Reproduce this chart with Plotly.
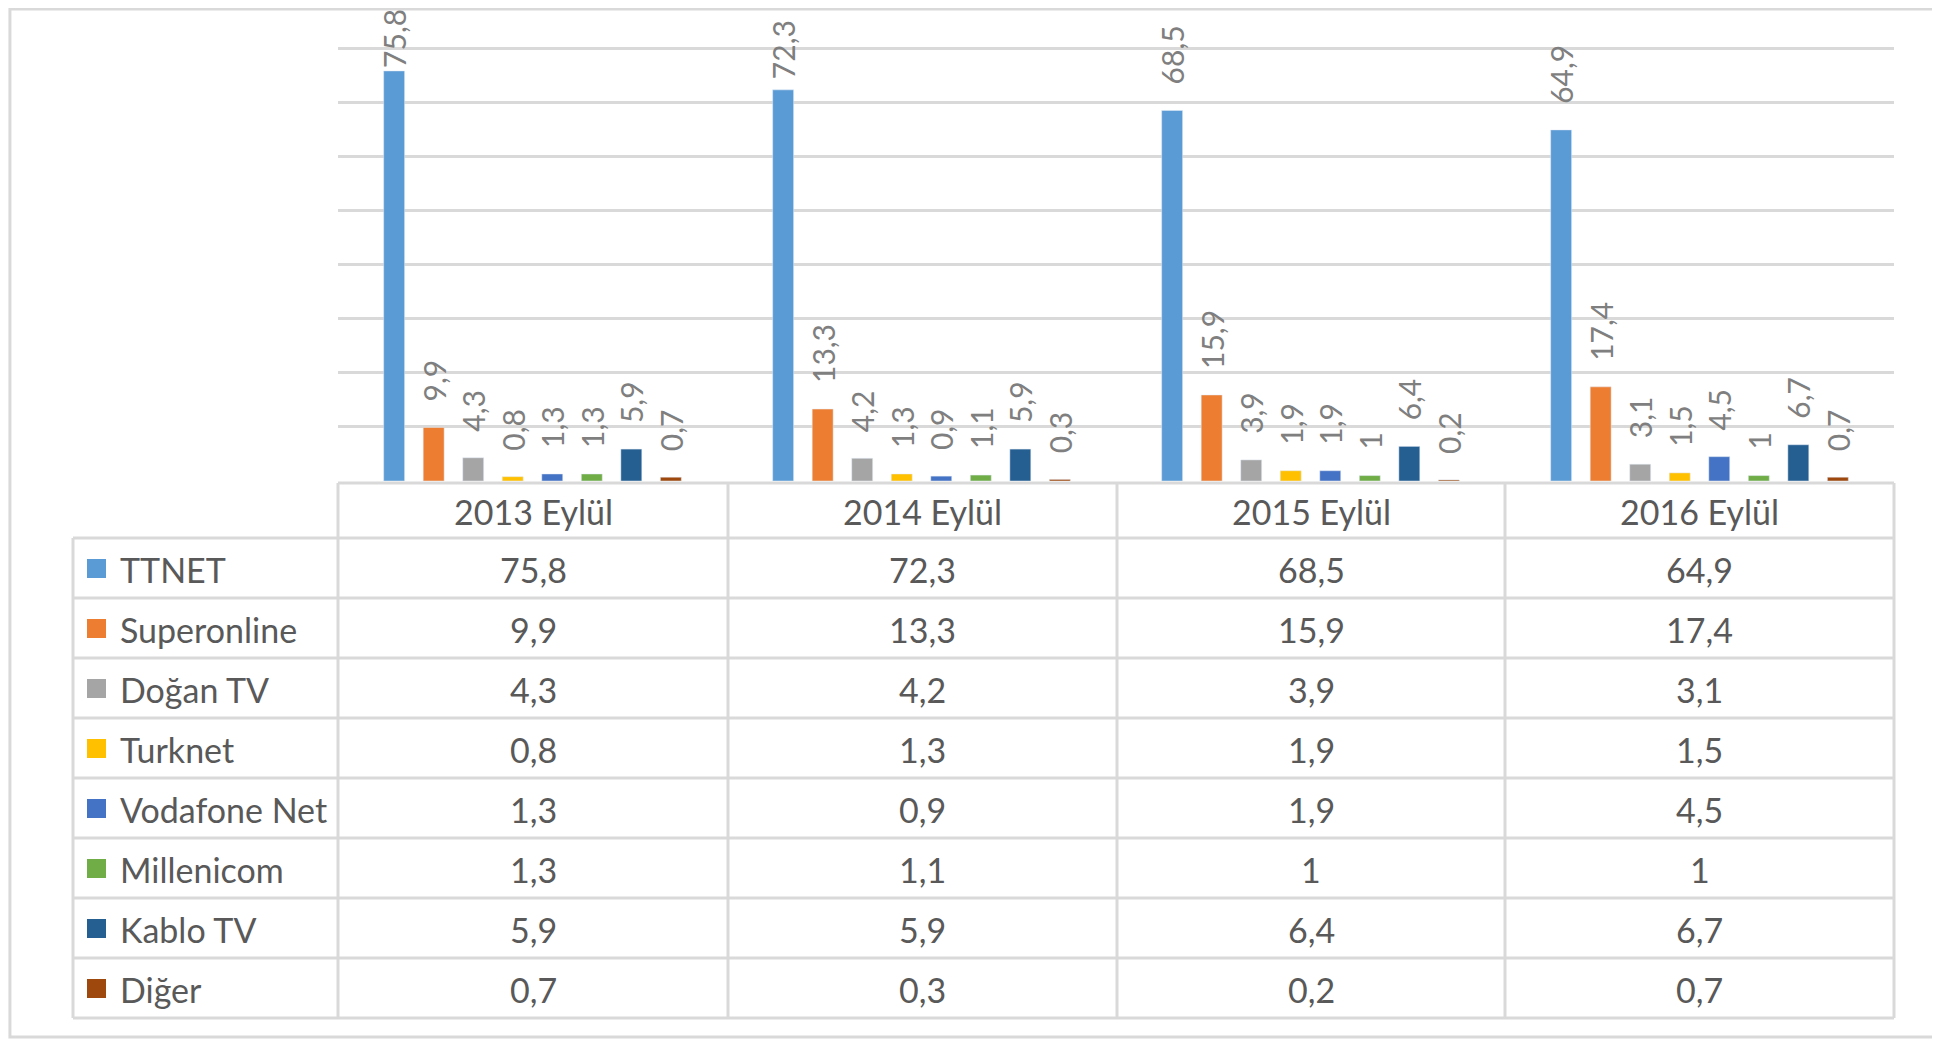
import plotly.graph_objects as go

# data
years = ["2013 Eylül", "2014 Eylül", "2015 Eylül", "2016 Eylül"]
providers = ["TTNET", "Superonline", "Doğan TV", "Turknet",
             "Vodafone Net", "Millenicom", "Kablo TV", "Diğer"]
ttnet = [75.8, 72.3, 68.5, 64.9]
superonline = [9.9, 13.3, 15.9, 17.4]
dogan_tv = [4.3, 4.2, 3.9, 3.1]
turknet = [0.8, 1.3, 1.9, 1.5]
vodafone_net = [1.3, 0.9, 1.9, 4.5]
millenicom = [1.3, 1.1, 1.0, 1.0]
kablo_tv = [5.9, 5.9, 6.4, 6.7]
diger = [0.7, 0.3, 0.2, 0.7]

series = [ttnet, superonline, dogan_tv, turknet,
          vodafone_net, millenicom, kablo_tv, diger]
colors = ["#5B9BD5", "#ED7D31", "#A5A5A5", "#FFC000",
          "#4472C4", "#70AD47", "#255E91", "#9E480E"]

# page has an 8px body margin, so the figure is a bit smaller than the window
OFF = 8
W, H = 1940 - OFF, 1040 - OFF
FONT = "Lato"
GRID = "#d9d9d9"
TXT = "#595959"


def fx(x):
    return (x - OFF) / W


def fy(y):
    return 1 - (y - OFF) / H


# plot area / table grid in page pixels
X0, X1 = 338, 1894
Y_TOP, Y_BOT = 8, 481
PPU = 5.41
Y_MAX = (Y_BOT - Y_TOP) / PPU
COL_X = [338, 728, 1117, 1505, 1894]
LEG_X = 73
HEAD_Y0, HEAD_Y1 = 483, 538
ROW_H = 60


def fmt(v):
    return f"{v:g}".replace(".", ",")


def label(v):
    # excel keeps a gap under the rotated label unless it would run off the top
    room = (Y_BOT - v * PPU) - 15 - 3 - 60
    n = max(0, min(3, int(room / 6)))
    return "\u00a0" * n + fmt(v)


fig = go.Figure()

for name, vals, c in zip(providers, series, colors):
    fig.add_trace(go.Bar(
        x=years, y=vals, name=name, marker_color=c,
        text=[label(v) for v in vals], textposition="outside",
        textangle=-90, constraintext="none", cliponaxis=False,
        textfont=dict(family=FONT, size=30, color="#7f7f7f"),
        showlegend=False,
    ))

# data table under the chart
shapes = []
annotations = []
table_bot = HEAD_Y1 + ROW_H * len(providers)


def hline(y, xa, xb):
    shapes.append(dict(type="line", xref="paper", yref="paper",
                       x0=fx(xa), x1=fx(xb), y0=fy(y), y1=fy(y),
                       line=dict(color=GRID, width=3)))


def vline(x, ya, yb):
    shapes.append(dict(type="line", xref="paper", yref="paper",
                       x0=fx(x), x1=fx(x), y0=fy(ya), y1=fy(yb),
                       line=dict(color=GRID, width=3)))


def cell_text(txt, x, y, anchor="center"):
    annotations.append(dict(text=txt, x=fx(x), y=fy(y), xref="paper",
                            yref="paper", xanchor=anchor, yanchor="middle",
                            showarrow=False,
                            font=dict(family=FONT, size=34, color=TXT)))


hline(HEAD_Y0, COL_X[0], COL_X[-1])
for i in range(len(providers) + 1):
    hline(HEAD_Y1 + i * ROW_H, LEG_X, COL_X[-1])
for x in COL_X:
    vline(x, HEAD_Y0, table_bot)
vline(LEG_X, HEAD_Y1, table_bot)

for j, yr in enumerate(years):
    cx = (COL_X[j] + COL_X[j + 1]) / 2
    cell_text(yr, cx, (HEAD_Y0 + HEAD_Y1) / 2 + 1)
    for i, s in enumerate(series):
        cell_text(fmt(s[j]), cx, HEAD_Y1 + (i + 0.5) * ROW_H + 1)

for i, (p, c) in enumerate(zip(providers, colors)):
    cy = HEAD_Y1 + (i + 0.5) * ROW_H
    shapes.append(dict(type="rect", xref="paper", yref="paper",
                       x0=fx(87), x1=fx(106), y0=fy(cy - 9), y1=fy(cy + 10),
                       fillcolor=c, line=dict(width=0)))
    cell_text(p, 118, cy + 1, anchor="left")

# light frame round the whole chart
shapes.append(dict(type="rect", xref="paper", yref="paper",
                   x0=0.001, x1=fx(1936), y0=fy(1037), y1=0.999,
                   line=dict(color=GRID, width=3)))

fig.update_layout(
    width=W, height=H,
    margin=dict(l=0, r=0, t=0, b=0),
    paper_bgcolor="white", plot_bgcolor="white",
    barmode="group", bargap=0.187, bargroupgap=0.47,
    xaxis=dict(domain=[fx(X0), fx(X1)], showticklabels=False, showgrid=False,
               zeroline=False, ticks=""),
    yaxis=dict(domain=[fy(Y_BOT), fy(Y_TOP)], range=[0, Y_MAX],
               dtick=10, showticklabels=False, showgrid=True, gridcolor=GRID,
               gridwidth=3, zeroline=False, ticks=""),
    shapes=shapes,
    annotations=annotations,
)

fig.write_html("out.html")
